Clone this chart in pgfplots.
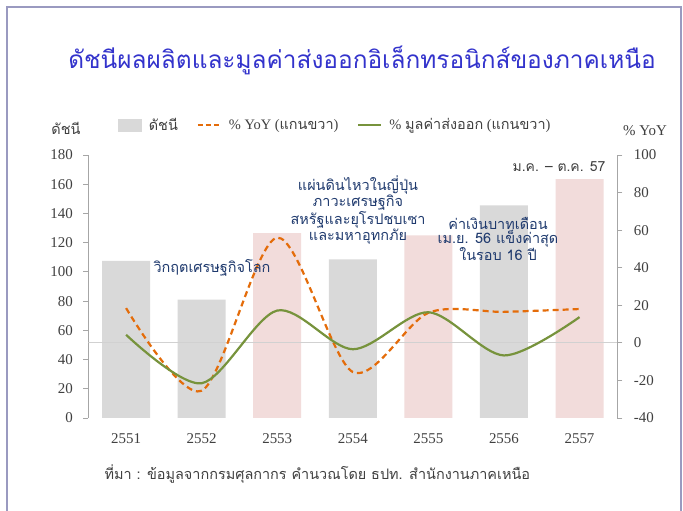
\documentclass[border=0pt]{standalone}
\usepackage{fontspec}
\setmainfont{Liberation Serif}
\newfontfamily\thai[Script=Thai]{Loma}
\usepackage{pgfplots}
\pgfplotsset{compat=1.18}
\definecolor{barg}{HTML}{D9D9D9}
\definecolor{barp}{HTML}{F2DCDB}
\definecolor{yoy}{HTML}{E46C0A}
\definecolor{expc}{HTML}{77933C}
\definecolor{navy}{HTML}{1F3A6E}
\definecolor{ttl}{HTML}{3333CC}
\definecolor{framec}{HTML}{9A9AC0}
\definecolor{axg}{HTML}{A6A6A6}
\definecolor{txtg}{HTML}{404040}
\begin{document}
\begin{tikzpicture}[x=1bp,y=1bp]
\useasboundingbox (0,0) rectangle (683,511);
\fill[white] (0,0) rectangle (683,511);
\draw[framec, line width=1.2bp] (7,-2) -- (7,504) -- (681,504) -- (681,-2);
\node[ttl, font=\thai\fontsize{24.5}{28}\selectfont] at (362,451) {ดัชนีผลผลิตและมูลค่าส่งออกอิเล็กทรอนิกส์ของภาคเหนือ};

\begin{axis}[
  at={(88.3bp,93bp)}, anchor=south west,
  scale only axis, width=529bp, height=263bp,
  xmin=-0.5, xmax=6.5, ymin=0, ymax=180,
  ytick={0,20,...,180},
  xtick={0,...,6}, xticklabels={2551,2552,2553,2554,2555,2556,2557},
  axis y line*=left, axis x line*=bottom,
  x axis line style={draw=none},
  y axis line style={axg, line width=0.8bp, -},
  tick align=outside, major tick length=5bp,
  xtick style={draw=none}, ytick style={axg, line width=0.8bp},
  /pgf/number format/assume math mode=true,
  tick label style={font=\fontsize{15}{17}\selectfont, text=txtg},
  xticklabel style={yshift=-7bp},
  yticklabel style={xshift=-7bp},
  ybar, bar width=48bp, bar shift=0pt,
  legend columns=3,
  legend style={draw=none, fill=none, at={(axis description cs:0.472,1)}, anchor=south, yshift=19bp,
    font=\fontsize{14.5}{16}\selectfont, text=txtg,
    nodes={inner xsep=7bp},
    /tikz/every even column/.append style={column sep=12bp}},
]
\addplot[fill=barg, draw=none, forget plot] coordinates {(0,107.5)(1,81)(3,108.5)(5,145.5)};
\addplot[fill=barp, draw=none, forget plot] coordinates {(2,126.5)(4,125)(6,163.5)};
\addlegendimage{legend image code/.code={\fill[barg] (0bp,-6bp) rectangle (23bp,6bp);}}
\addlegendimage{legend image code/.code={\draw[yoy, dash pattern=on 5bp off 3bp, line width=2bp] (0bp,0bp) -- (23bp,0bp);}}
\addlegendimage{legend image code/.code={\draw[expc, line width=2bp] (0bp,0bp) -- (23bp,0bp);}}
\legend{{\thai ดัชนี}, {\% YoY ({\thai แกนขวา})}, {\% {\thai มูลค่าส่งออก} ({\thai แกนขวา})}}
\end{axis}

\begin{axis}[
  at={(88.3bp,93bp)}, anchor=south west,
  scale only axis, width=529bp, height=263bp,
  xmin=-0.5, xmax=6.5, ymin=-40, ymax=100,
  ytick={-40,-20,...,100},
  axis y line*=right, axis x line=none,
  y axis line style={axg, line width=0.8bp, -},
  tick align=outside, major tick length=5bp,
  ytick style={axg, line width=0.8bp},
  /pgf/number format/assume math mode=true,
  tick label style={font=\fontsize{15}{17}\selectfont, text=txtg},
  yticklabel style={xshift=8bp},
]
\addplot[black!18, line width=1bp] coordinates {(-0.5,0)(6.5,0)};
\addplot[yoy, dash pattern=on 6bp off 4bp, line width=2.2bp, smooth] coordinates {(0,18.5)(1,-25.5)(2,56)(3,-15.5)(4,16)(5,16.5)(6,18)};
\addplot[expc, line width=2.2bp, smooth] coordinates {(0,4.3)(1,-21.5)(2,17.2)(3,-3.4)(4,16.3)(5,-6.7)(6,13.7)};
\end{axis}

\node[txtg, font=\thai\fontsize{14.5}{16}\selectfont] at (66,383) {ดัชนี};
\node[txtg, font=\fontsize{15}{17}\selectfont] at (645,380) {\% YoY};

\node[navy, font=\thai\fontsize{14.5}{16}\selectfont] at (212,243) {วิกฤตเศรษฐกิจโลก};
\node[navy, font=\thai\fontsize{14.5}{14.7}\selectfont, align=center] at (358,301) {แผ่นดินไหวในญี่ปุ่น\\ภาวะเศรษฐกิจ\\สหรัฐและยุโรปชบเซา\\และมหาอุทกภัย};
\node[navy, font=\thai\fontsize{14.5}{14}\selectfont, align=center] at (498,272) {ค่าเงินบาทเดือน\\เม.ย. 56 แข็งค่าสุด\\ในรอบ 16 ปี};
\node[txtg, font=\thai\fontsize{14}{15}\selectfont, anchor=east] at (609,344) {ม.ค. – ต.ค. 57};

\node[txtg, font=\thai\fontsize{14.5}{16}\selectfont, anchor=west] at (101,37) {ที่มา : ข้อมูลจากกรมศุลกากร คำนวณโดย ธปท. สำนักงานภาคเหนือ};
\end{tikzpicture}
\end{document}
